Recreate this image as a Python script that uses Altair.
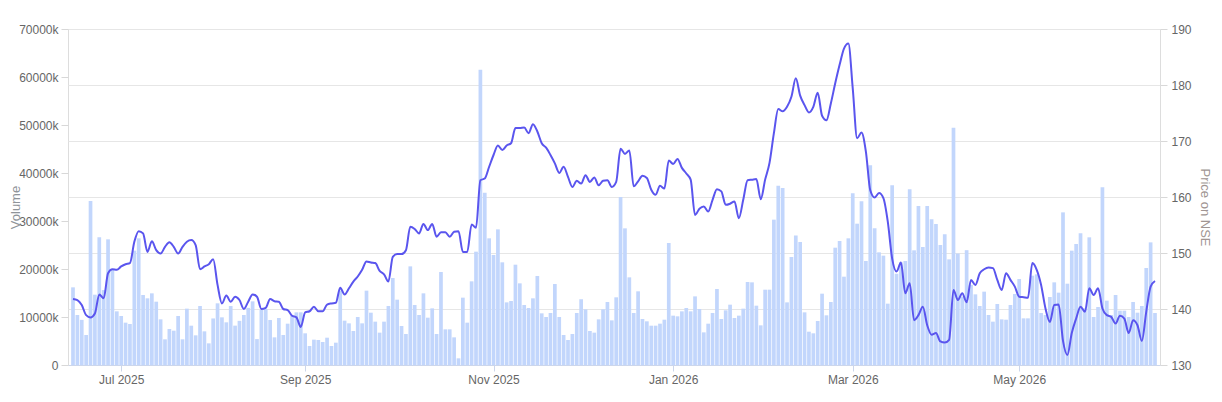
import altair as alt
import pandas as pd

# ---- data ----
start_date = "2025-06-16"
holidays = ["2025-08-15", "2025-08-27", "2025-10-02", "2025-10-22", "2025-11-05",
            "2025-12-25", "2026-01-26", "2026-03-03", "2026-03-20", "2026-03-26",
            "2026-03-31", "2026-04-03", "2026-04-14", "2026-05-01", "2026-05-27"]

volume_k = [
    16180, 10420, 9400, 6250, 34160, 14650, 26630, 15610, 26180, 19790,
    11180, 10210, 8820, 8540, 23820, 26390, 14580, 13890, 14930, 13190,
    9510, 5350, 7500, 7150, 10210, 5350, 11740, 8190, 6180, 12290,
    7010, 4510, 9700, 12850, 9930, 8890, 12290, 8200, 9200, 10420,
    11900, 13260, 5400, 11460, 11670, 9370, 5760, 9790, 6250, 8610,
    10210, 10970, 10970, 6600, 3960, 5280, 5210, 4790, 5690, 3960,
    4650, 15500, 9240, 8680, 7080, 10000, 8680, 15490, 10900, 9030,
    6740, 9030, 12290, 18120, 13610, 8120, 6460, 20550, 12500, 10420,
    14930, 9860, 11800, 6460, 19370, 7430, 7430, 5760, 1390, 14030,
    8820, 17430, 23610, 61530, 35900, 26390, 22920, 28260, 21390, 13050,
    13330, 20900, 17010, 12500, 11870, 13890, 18540, 10760, 10000, 10830,
    16870, 10000, 6250, 5210, 6460, 10830, 13680, 11600, 7080, 6740,
    9510, 11600, 13120, 9300, 14100, 35000, 28470, 18260, 10830, 15350,
    9580, 9100, 8190, 8190, 8610, 9440, 25420, 10280, 10140, 11180,
    11870, 11180, 14300, 11670, 6800, 8610, 10830, 15830, 9580, 11390,
    12570, 9790, 10280, 11740, 17290, 17220, 12360, 8260, 15690, 15690,
    30280, 37360, 36870, 13050, 22500, 27000, 25620, 10970, 6940, 6600,
    9170, 14860, 10350, 13120, 24440, 25830, 18400, 26390, 35760, 29440,
    34100, 21670, 41600, 28470, 23470, 22780, 12780, 37430, 19000, 21390,
    21670, 36600, 23890, 33120, 24580, 33120, 30350, 29370, 25000, 27220,
    22010, 49440, 23230, 14240, 23920, 16700, 14720, 12290, 15280, 10420,
    9030, 12710, 9510, 9440, 12500, 14790, 17920, 9720, 9720, 18610,
    18890, 10830, 10420, 14170, 17220, 15070, 31800, 16940, 23820, 25210,
    27430, 11800, 26600, 10000, 12080, 37010, 13400, 10420, 14580, 11320,
    11320, 10000, 13120, 10900, 12290, 20210, 25550, 10830,
]

price = [
    141.8, 141.6, 140.7, 138.9, 138.5, 139.2, 142.6, 141.9, 146.4, 147.1,
    147.0, 147.6, 148.0, 148.2, 152.0, 153.9, 153.5, 150.2, 152.1, 150.5,
    149.9, 151.1, 151.9, 151.1, 149.9, 151.1, 152.0, 152.3, 151.4, 147.1,
    147.6, 148.0, 148.9, 144.3, 141.0, 142.4, 141.3, 142.2, 141.6, 140.0,
    141.3, 142.6, 142.2, 140.0, 140.2, 141.8, 141.4, 141.3, 140.0, 139.8,
    138.8, 138.5, 136.8, 139.4, 139.6, 140.4, 139.6, 139.6, 140.8, 141.0,
    141.1, 143.8, 142.6, 143.7, 144.9, 145.8, 147.0, 148.5, 148.3, 148.2,
    146.8, 146.2, 144.9, 149.3, 149.8, 149.8, 150.5, 154.7, 154.3, 153.5,
    155.2, 154.1, 155.2, 152.9, 153.7, 153.7, 152.9, 153.8, 153.9, 150.2,
    150.2, 155.1, 154.5, 163.0, 163.3, 165.4, 167.5, 169.2, 168.4, 169.2,
    169.6, 172.3, 172.3, 172.4, 171.4, 173.0, 171.7, 169.6, 168.8, 167.5,
    166.0, 164.3, 165.4, 163.6, 161.8, 162.9, 162.4, 163.9, 162.7, 163.5,
    162.1, 162.9, 163.0, 161.8, 162.7, 168.6, 167.7, 168.3, 161.9, 162.8,
    163.8, 163.4, 161.3, 160.4, 162.0, 161.5, 166.5, 165.9, 166.8, 165.2,
    164.2, 163.1, 156.8, 157.9, 158.3, 157.4, 159.5, 161.4, 161.0, 158.6,
    158.8, 159.2, 156.2, 159.5, 163.0, 163.1, 163.2, 159.6, 163.1, 166.1,
    171.4, 175.7, 175.3, 176.1, 177.9, 181.2, 178.1, 176.4, 175.1, 176.1,
    178.6, 174.5, 173.7, 176.7, 180.3, 183.6, 186.5, 187.4, 179.4, 170.5,
    171.5, 168.1, 161.2, 159.9, 160.7, 159.8, 155.6, 149.0, 146.7, 148.3,
    142.8, 144.6, 138.0, 138.9, 140.4, 137.1, 135.4, 135.7, 134.2, 134.0,
    134.5, 143.4, 141.6, 142.8, 141.2, 145.2, 144.3, 146.4, 147.1, 147.4,
    147.3, 145.2, 143.4, 146.4, 145.2, 144.0, 142.2, 142.1, 142.0, 148.2,
    147.0, 144.3, 140.1, 137.7, 140.7, 140.8, 134.3, 131.8, 135.7, 138.3,
    140.4, 139.5, 143.7, 142.5, 143.7, 140.1, 138.9, 138.6, 137.4, 138.8,
    138.3, 135.7, 138.0, 137.1, 134.3, 139.5, 144.0, 145.0,
]

volume_ticks = [0, 10000, 20000, 30000, 40000, 50000, 60000, 70000]
price_ticks = [130, 140, 150, 160, 170, 180, 190]
label_months = [7, 9, 11, 1, 3, 5]

# ---- trading-day calendar (categories) ----
n = len(volume_k)
hol = set(holidays)
days = pd.bdate_range(start_date, "2026-08-31")
days = [d for d in days if d.strftime("%Y-%m-%d") not in hol][:n]

df = pd.DataFrame({
    "i": list(range(n)),
    "date": [d.strftime("%Y-%m-%d") for d in days],
    "volume": volume_k,
    "price": price,
})

# first trading day of the labelled months
tick_idx, tick_lab = [], []
seen = set()
for k, d in enumerate(days):
    key = (d.year, d.month)
    if d.month in label_months and key not in seen and k != 0:
        seen.add(key)
        tick_idx.append(k)
        tick_lab.append(d.strftime("%b %Y"))

label_expr = "''"
for k, lab in reversed(list(zip(tick_idx, tick_lab))):
    label_expr = f"datum.value == {k} ? '{lab}' : ({label_expr})"

FONT = "Liberation Sans"
LABEL = "#666666"
AXLINE = "#ccd6eb"

x_enc = alt.X(
    "i:Q",
    scale=alt.Scale(domain=[0, n - 1], nice=False, zero=False),
    axis=alt.Axis(values=tick_idx, labelExpr=label_expr, grid=False, title=None,
                  tickSize=6, tickColor=AXLINE, domainColor=AXLINE,
                  labelColor=LABEL, labelFontSize=12, labelPadding=3, labelFont=FONT),
)

bars = alt.Chart(df).mark_bar(color="#c2d6fc", size=3.7, clip=True).encode(
    x=x_enc,
    y=alt.Y(
        "volume:Q",
        scale=alt.Scale(domain=[0, 70000], nice=False),
        axis=alt.Axis(orient="left", values=volume_ticks,
                      labelExpr="datum.value == 0 ? '0' : datum.value + 'k'",
                      grid=False, domain=False, tickSize=7, tickColor="#d8d8d8",
                      title="Volume", titleColor="#8f9499", titleFontWeight="normal",
                      titleFontSize=13, titleFont=FONT,
                      titleX=-49, titleY=178, titleAngle=270, titleAlign="center",
                      titleBaseline="alphabetic",
                      labelColor=LABEL, labelFontSize=12, labelPadding=3, labelFont=FONT),
    ),
)

line = alt.Chart(df).mark_line(color="#5a55ee", strokeWidth=2, interpolate="monotone").encode(
    x=x_enc,
    y=alt.Y(
        "price:Q",
        scale=alt.Scale(domain=[130, 190], nice=False, zero=False),
        axis=alt.Axis(orient="right", values=price_ticks, grid=True, gridColor="#e6e6e6",
                      domain=False, tickSize=7, tickColor="#d8d8d8",
                      title="Price on NSE", titleColor="#a09592", titleFontWeight="normal",
                      titleFontSize=13, titleFont=FONT,
                      titleX=37, titleY=178, titleAngle=90, titleAlign="center",
                      titleBaseline="bottom",
                      labelColor=LABEL, labelFontSize=12, labelPadding=4, labelFont=FONT),
    ),
)

chart = (
    alt.layer(bars, line)
    .resolve_scale(y="independent")
    .properties(
        width=1092,
        height=336,
        autosize=alt.AutoSizeParams(type="none"),
        padding={"left": 60, "top": 21, "right": 54, "bottom": 29},
    )
    .configure_view(stroke=None)
    .configure(background="white")
)

chart.save("out.html", embed_options={"renderer": "svg", "actions": False})
